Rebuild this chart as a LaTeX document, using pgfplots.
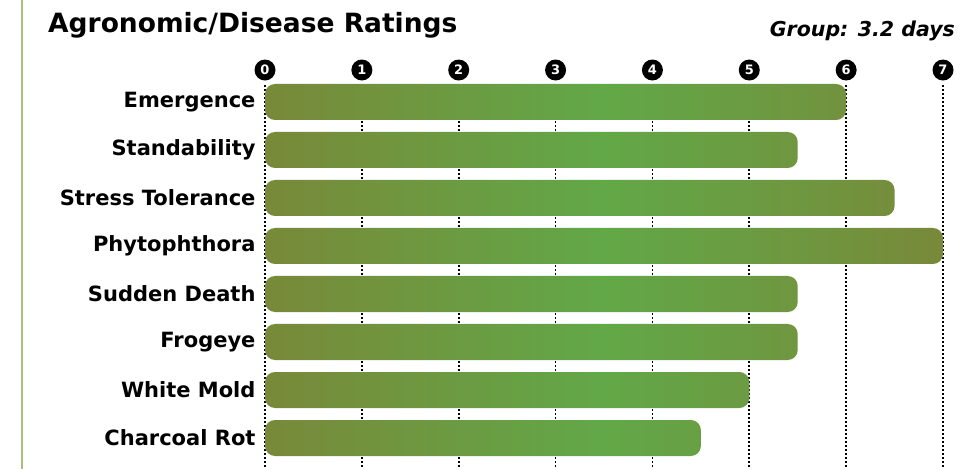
\documentclass[border=0pt]{standalone}
\usepackage{fontspec}
\setmainfont{DejaVu Sans}
\usepackage{pgfplots}
\pgfplotsset{compat=1.18}
\definecolor{baredge}{RGB}{120,137,58}
\definecolor{barmid}{RGB}{98,168,72}
\definecolor{framegreen}{RGB}{172,190,125}
\begin{document}
\begin{tikzpicture}[x=1pt,y=1pt]
\useasboundingbox (0,0) rectangle (973,469);
\fill[white] (0,0) rectangle (973,469);
\draw[framegreen, line width=1.6pt] (22,0) -- (22,469);
\node[anchor=base west, inner sep=0, font=\bfseries\fontsize{26.5}{30}\selectfont] at (48,436) {Agronomic/Disease Ratings};
\node[anchor=base east, inner sep=0, font=\bfseries\itshape\fontsize{20.5}{24}\selectfont] at (955,432) {Group: 3.2 days};
\begin{axis}[
    at={(265pt,0pt)}, anchor=south west,
    scale only axis, width=678pt, height=384pt,
    xmin=0, xmax=7, ymin=-0.354, ymax=7.646,
    y dir=reverse, clip=false,
    axis line style={draw=none},
    tick style={draw=none},
    xtick={0,...,7}, xticklabels={},
    xmajorgrids, major grid style={black, line width=1.6pt, dash pattern=on 1.6pt off 2.4pt},
    ytick={0,...,7},
    yticklabels={Emergence,Standability,Stress Tolerance,Phytophthora,Sudden Death,Frogeye,White Mold,Charcoal Rot},
    yticklabel style={font=\bfseries\fontsize{21}{24}\selectfont, xshift=-6pt},
]
\addplot[xbar, bar width=36pt, bar shift=0pt, draw=none,
    left color=baredge, right color=baredge, middle color=barmid,
    rounded corners=10pt] coordinates {
    (6,0) (5.5,1) (6.5,2) (7,3) (5.5,4) (5.5,5) (5,6) (4.5,7)
};
\pgfplotsinvokeforeach{0,...,7}{
  \node[circle, fill=black, text=white, inner sep=0pt, minimum size=21pt,
        font=\bfseries\fontsize{13}{13}\selectfont, yshift=15pt]
        at (axis cs:#1,-0.354) {#1};
}
\end{axis}
\end{tikzpicture}
\end{document}
